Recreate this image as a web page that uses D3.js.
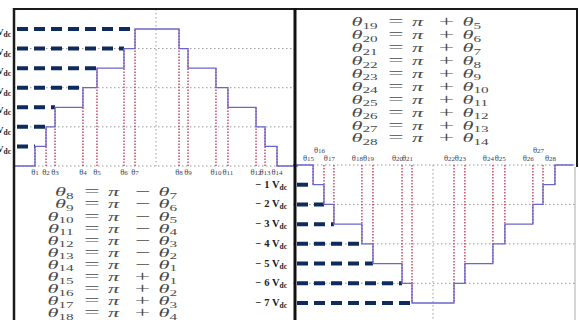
<!DOCTYPE html>
<html>
<head>
<meta charset="utf-8">
<script src="https://cdn.jsdelivr.net/npm/d3@7"></script>
<style>
  html, body { margin: 0; padding: 0; background: #fff; }
  svg { display: block; }
</style>
</head>
<body>
<div id="chart"></div>
<script>
// switching angles (degrees)
const leftAngles = [13.3, 20.3, 26.0, 43.7, 52.6, 69.7, 76.7, 104.6, 110.3, 128.0, 135.6, 153.4, 159.1, 166.7];
const leftLevels = [1, 2, 3, 4, 5, 6, 7, 6, 5, 4, 3, 2, 1, 0];
const leftNames = [1, 2, 3, 4, 5, 6, 7, 8, 9, 10, 11, 12, 13, 14];

const rightAngles = [192.9, 199.9, 206.3, 224.3, 231.4, 250.1, 256.5, 283.5, 290.5, 308.5, 316.2, 334.2, 340.7, 348.4];
const rightLevels = [-1, -2, -3, -4, -5, -6, -7, -6, -5, -4, -3, -2, -1, 0];
const rightNames = [15, 16, 17, 18, 19, 20, 21, 22, 23, 24, 25, 26, 27, 28];

const posLevels = [1, 2, 3, 4, 5, 6, 7];
const negLevels = [-1, -2, -3, -4, -5, -6, -7];
const leftGrid = [0, 2, 4, 6];
const rightGrid = [0, -2, -4, -6];

// equations printed in the figure
const eqLeftLhs = [8, 9, 10, 11, 12, 13, 14, 15, 16, 17, 18];
const eqLeftOp = ['−', '−', '−', '−', '−', '−', '−', '+', '+', '+', '+'];
const eqLeftRhs = [7, 6, 5, 4, 3, 2, 1, 1, 2, 3, 4];
const eqRightLhs = [19, 20, 21, 22, 23, 24, 25, 26, 27, 28];
const eqRightOp = ['+', '+', '+', '+', '+', '+', '+', '+', '+', '+'];
const eqRightRhs = [5, 6, 7, 8, 9, 10, 11, 12, 13, 14];

const width = 579, height = 320;
const waveColor = '#6a66cc', dashColor = '#0f2a5c', redColor = '#c2405e', gridColor = '#9a9a9a';

const svg = d3.select('#chart').append('svg')
  .attr('width', width)
  .attr('height', height);

const xLeft = d3.scaleLinear().domain([0, 180]).range([14, 298]);
const yLeft = d3.scaleLinear().domain([0, 7]).range([166, 29]);
const xRight = d3.scaleLinear().domain([180, 360]).range([293, 573]);
const yRight = d3.scaleLinear().domain([-7, 0]).range([303, 165]);

function drawPanel(g, x, y, angles, levels, names, grid, axisLevels, opts) {
  // dotted grid
  g.selectAll('.hgrid')
    .data(grid)
    .enter()
    .append('line')
    .attr('x1', x.range()[0]).attr('x2', opts.gridEnd)
    .attr('y1', d => y(d)).attr('y2', d => y(d))
    .attr('stroke', gridColor).attr('stroke-width', 1)
    .attr('stroke-dasharray', '1.5,2.5');

  g.append('line')
    .attr('x1', x(opts.mid)).attr('x2', x(opts.mid))
    .attr('y1', opts.midY[0]).attr('y2', opts.midY[1])
    .attr('stroke', gridColor).attr('stroke-width', 1)
    .attr('stroke-dasharray', '1.5,2.5');

  // red markers at each switching angle
  g.selectAll('.marker')
    .data(angles)
    .enter()
    .append('line')
    .attr('x1', d => x(d)).attr('x2', d => x(d))
    .attr('y1', y(0))
    .attr('y2', (d, i) => {
      const prev = i === 0 ? 0 : levels[i - 1];
      return Math.abs(prev) > Math.abs(levels[i]) ? y(prev) : y(levels[i]);
    })
    .attr('stroke', redColor).attr('stroke-width', 1.4)
    .attr('stroke-dasharray', '1.5,1.5');

  // dashed level guides
  g.selectAll('.guide')
    .data(axisLevels)
    .enter()
    .append('line')
    .attr('x1', opts.dashStart)
    .attr('x2', (d, i) => x(angles[i]))
    .attr('y1', d => y(d)).attr('y2', d => y(d))
    .attr('stroke', dashColor).attr('stroke-width', 4)
    .attr('stroke-dasharray', '11,6');

  // staircase
  const pts = [[x.domain()[0], 0]].concat(angles.map((a, i) => [a, levels[i]]), [[x.domain()[1], 0]]);
  g.append('path')
    .datum(pts)
    .attr('d', d3.line().x(d => x(d[0])).y(d => y(d[1])).curve(d3.curveStepAfter))
    .attr('fill', 'none')
    .attr('stroke', waveColor)
    .attr('stroke-width', 1.3);

  // angle labels
  const lab = g.selectAll('.alabel')
    .data(angles)
    .enter()
    .append('text')
    .attr('x', (d, i) => x(d) + opts.labelDx)
    .attr('y', (d, i) => opts.labelY(i))
    .attr('text-anchor', opts.labelAnchor)
    .attr('font-family', 'Liberation Serif')
    .attr('font-size', 8.5)
    .attr('fill', '#3b3f5a');
  lab.append('tspan').text('θ');
  lab.append('tspan').attr('font-size', 7).text((d, i) => names[i]);
}

const left = svg.append('g');
drawPanel(left, xLeft, yLeft, leftAngles, leftLevels, leftNames, leftGrid, posLevels, {
  gridEnd: 293, mid: 90, midY: [9, 166], dashStart: 17,
  labelDx: 0, labelAnchor: 'middle', labelY: () => 175
});

const right = svg.append('g');
drawPanel(right, xRight, yRight, rightAngles, rightLevels, rightNames, rightGrid, negLevels, {
  gridEnd: 575, mid: 270, midY: [165, 320], dashStart: 297,
  labelDx: 1, labelAnchor: 'end',
  labelY: i => (i === 1 || i === 12) ? 153 : 161
});

// Vdc labels (the left ones run off the edge of the picture)
const posLab = svg.selectAll('.plab')
  .data(posLevels)
  .enter()
  .append('text')
  .attr('x', 11)
  .attr('y', d => yLeft(d) + 6)
  .attr('text-anchor', 'end')
  .attr('font-family', 'Liberation Serif')
  .attr('font-weight', 'bold')
  .attr('font-size', 9)
  .attr('fill', '#222');
posLab.append('tspan').text(d => d + ' V');
posLab.append('tspan').attr('font-size', 7.5).attr('dy', 2).text('dc');

const negLab = svg.selectAll('.nlab')
  .data(negLevels)
  .enter()
  .append('text')
  .attr('x', 287)
  .attr('y', d => yRight(d) + 3)
  .attr('text-anchor', 'end')
  .attr('font-family', 'Liberation Serif')
  .attr('font-weight', 'bold')
  .attr('font-size', 10.5)
  .attr('fill', '#222');
negLab.append('tspan').text(d => '− ' + Math.abs(d) + ' V');
negLab.append('tspan').attr('font-size', 7.5).attr('dy', 2).text('dc');

// equations, stretched sideways like the scanned ones
function drawEquations(lhs, ops, rhs, cx, y0, step) {
  const eq = svg.selectAll(null)
    .data(lhs)
    .enter()
    .append('g')
    .attr('transform', (d, i) => `translate(${cx},${y0 + i * step}) scale(1.6,0.86)`)
    .attr('font-family', 'Liberation Serif')
    .attr('fill', '#4a4a4a');

  const l = eq.append('text').attr('x', -11.5).attr('y', 5).attr('text-anchor', 'end').attr('font-size', 14);
  l.append('tspan').attr('font-style', 'italic').text('θ');
  l.append('tspan').attr('font-size', 9.5).attr('dy', 3).text(d => d);

  eq.append('text').attr('x', 0).attr('y', 5).attr('text-anchor', 'middle').attr('font-size', 17).text('=');
  eq.append('text').attr('x', 13.5).attr('y', 5).attr('text-anchor', 'middle').attr('font-size', 14)
    .attr('font-style', 'italic').text('π');
  eq.append('text').attr('x', 31.5).attr('y', 5).attr('text-anchor', 'middle').attr('font-size', 17)
    .text((d, i) => ops[i]);

  const r = eq.append('text').attr('x', 41.5).attr('y', 5).attr('font-size', 14);
  r.append('tspan').attr('font-style', 'italic').text('θ');
  r.append('tspan').attr('font-size', 9.5).attr('dy', 3).text((d, i) => rhs[i]);
}

drawEquations(eqLeftLhs, eqLeftOp, eqLeftRhs, 92, 192, 12.1);
drawEquations(eqRightLhs, eqRightOp, eqRightRhs, 396, 22, 12.9);

// frame
svg.append('line').attr('x1', 14).attr('x2', 578).attr('y1', 9).attr('y2', 9)
  .attr('stroke', '#1a1a1a').attr('stroke-width', 2);
svg.append('line').attr('x1', 14).attr('x2', 14).attr('y1', 8).attr('y2', 320)
  .attr('stroke', '#1a1a1a').attr('stroke-width', 2.5);
svg.append('line').attr('x1', 295).attr('x2', 295).attr('y1', 8).attr('y2', 320)
  .attr('stroke', '#111').attr('stroke-width', 3);
svg.append('line').attr('x1', 577).attr('x2', 577).attr('y1', 8).attr('y2', 167)
  .attr('stroke', '#1a1a1a').attr('stroke-width', 2);
svg.append('line').attr('x1', 575).attr('x2', 575).attr('y1', 167).attr('y2', 320)
  .attr('stroke', '#aaa').attr('stroke-width', 1);
</script>
</body>
</html>
